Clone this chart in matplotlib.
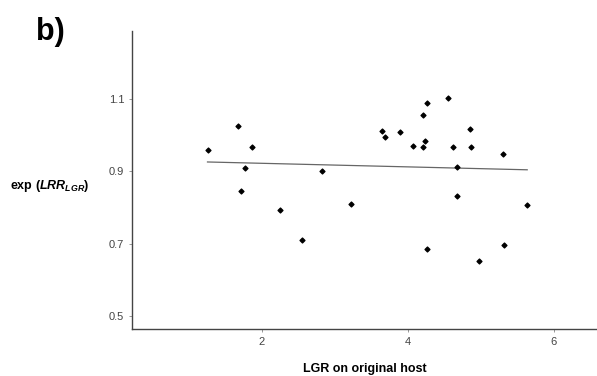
import numpy as np
import matplotlib
matplotlib.use("Agg")
import matplotlib.pyplot as plt

plt.rcParams["font.family"] = ["Liberation Sans", "DejaVu Sans"]
plt.rcParams["mathtext.fontset"] = "custom"
plt.rcParams["mathtext.rm"] = "Liberation Sans:bold"
plt.rcParams["mathtext.bf"] = "Liberation Sans:bold"
plt.rcParams["mathtext.it"] = "Liberation Sans:italic:bold"
plt.rcParams["mathtext.bfit"] = "Liberation Sans:italic:bold"

# ---------- data ----------
lgr = [1.255, 1.671, 1.871, 1.762, 1.707, 2.247, 2.552, 2.817, 3.223, 3.644,
       3.680, 3.885, 4.063, 4.205, 4.260, 4.228, 4.205, 4.548, 4.611, 4.844,
       4.863, 4.679, 4.666, 4.268, 4.977, 5.296, 5.319, 5.634]
exp_lrr = [0.958, 1.025, 0.967, 0.909, 0.846, 0.794, 0.710, 0.902, 0.810, 1.012,
           0.996, 1.009, 0.969, 1.055, 1.090, 0.983, 0.967, 1.104, 0.967, 1.017,
           0.967, 0.911, 0.831, 0.685, 0.652, 0.947, 0.696, 0.808]
x_ticks = [2, 4, 6]
y_ticks = [0.5, 0.7, 0.9, 1.1]

x = np.array(lgr)
y = np.array(exp_lrr)

# linear fit over the observed range
slope, intercept = np.polyfit(x, y, 1)
xf = np.array([x.min(), x.max()])
yf = intercept + slope * xf

fig = plt.figure(figsize=(5.97, 3.76), dpi=100)
ax = fig.add_axes([0.221, 0.125, 0.779, 0.793])

ax.plot(xf, yf, color="#666666", lw=0.9)
ax.scatter(x, y, marker="D", s=6, color="black", zorder=3)

ax.set_xlim(0.22, 6.59)
ax.set_ylim(0.464, 1.289)
ax.set_xticks(x_ticks)
ax.set_yticks(y_ticks)
ax.set_xticklabels([str(t) for t in x_ticks])
ax.set_yticklabels([f"{t:.1f}" for t in y_ticks])

for s in ("top", "right"):
    ax.spines[s].set_visible(False)
for s in ("left", "bottom"):
    ax.spines[s].set_color("#444444")
    ax.spines[s].set_linewidth(1.0)
ax.tick_params(colors="#888888", labelcolor="#444444", labelsize=8, length=2, width=0.6)

ax.set_xlabel("LGR on original host", fontsize=9, fontweight="bold", labelpad=12)
fig.text(0.016, 0.505, r"exp ($\mathit{LRR}_{\mathit{LGR}}$)", fontsize=9,
         fontweight="bold", ha="left", va="center")
fig.text(0.060, 0.915, "b)", fontsize=22, fontweight="bold", ha="left", va="center")

fig.savefig("out.png", dpi=100)
